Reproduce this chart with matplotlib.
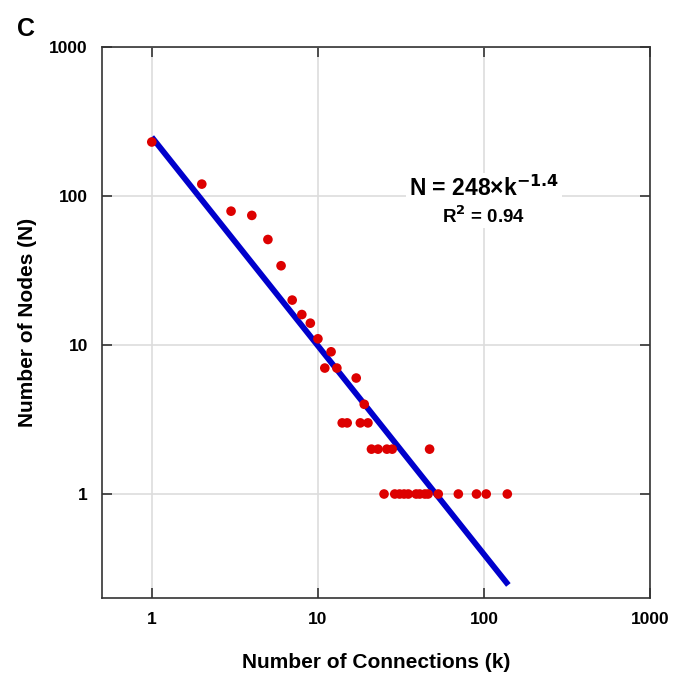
import matplotlib.pyplot as plt
import numpy as np

plt.rcParams['font.family'] = ['Liberation Sans', 'DejaVu Sans']

# degree distribution
k_vals = [1, 2, 3, 4, 5, 6, 7, 8, 9, 10, 11, 12, 13, 14, 15, 17, 18, 19, 20,
          21, 23, 26, 28, 47,
          25, 29, 31, 33, 35, 39, 41, 44, 46, 53, 70, 90, 103, 138]
n_vals = [230, 120, 79, 74, 51, 34, 20, 16, 14, 11, 7, 9, 7, 3, 3, 6, 3, 4, 3,
          2, 2, 2, 2, 2,
          1, 1, 1, 1, 1, 1, 1, 1, 1, 1, 1, 1, 1, 1]

# power-law fit N = a * k^b
fit_a = 248
fit_b = -1.4
k_fit = np.array([1, 140])

x_ticks = [1, 10, 100, 1000]
x_labels = ['1', '10', '100', '1000']
y_ticks = [1, 10, 100, 1000]
y_labels = ['1', '10', '100', '1000']

fig = plt.figure(figsize=(6.83, 6.79), dpi=100)
ax = fig.add_axes([0.149, 0.119, 0.803, 0.812])

ax.plot(k_fit, fit_a * k_fit ** fit_b, color='#0000cc', lw=4.2,
        solid_capstyle='butt', zorder=2)
ax.scatter(k_vals, n_vals, s=48, color='#dd0000', edgecolors='none', zorder=3)

ax.set_xscale('log')
ax.set_yscale('log')
ax.set_xlim(0.5, 1000)
ax.set_ylim(0.2, 1000)
ax.minorticks_off()
ax.set_xticks(x_ticks)
ax.set_xticklabels(x_labels, fontsize=12.5, fontweight='bold')
ax.set_yticks(y_ticks)
ax.set_yticklabels(y_labels, fontsize=12.5, fontweight='bold')
ax.tick_params(direction='in', length=7, width=1.2, top=True, right=True,
               color='#333333')
ax.tick_params(axis='x', pad=10)
ax.tick_params(axis='y', pad=10)
ax.grid(True, color='#dddddd', lw=1.2, zorder=0)
ax.set_axisbelow(True)
for sp in ax.spines.values():
    sp.set_linewidth(1.2)
    sp.set_color('#333333')

ax.set_xlabel('Number of Connections (k)', fontsize=15, fontweight='bold',
              labelpad=19)
ax.set_ylabel('Number of Nodes (N)', fontsize=15, fontweight='bold',
              labelpad=9)

ax.text(0.697, 0.743, 'N = 248\u00d7k$^{\\mathbf{\u22121.4}}$',
        transform=ax.transAxes, ha='center', va='center', fontsize=16.5,
        fontweight='bold', bbox=dict(facecolor='white', edgecolor='none', pad=2))
ax.text(0.697, 0.693, 'R$^{\\mathbf{2}}$ = 0.94', transform=ax.transAxes,
        ha='center', va='center', fontsize=13.5, fontweight='bold',
        bbox=dict(facecolor='white', edgecolor='none', pad=1))

fig.text(0.025, 0.958, 'C', fontsize=18, fontweight='bold', va='center')

fig.savefig('out.png', dpi=100)
